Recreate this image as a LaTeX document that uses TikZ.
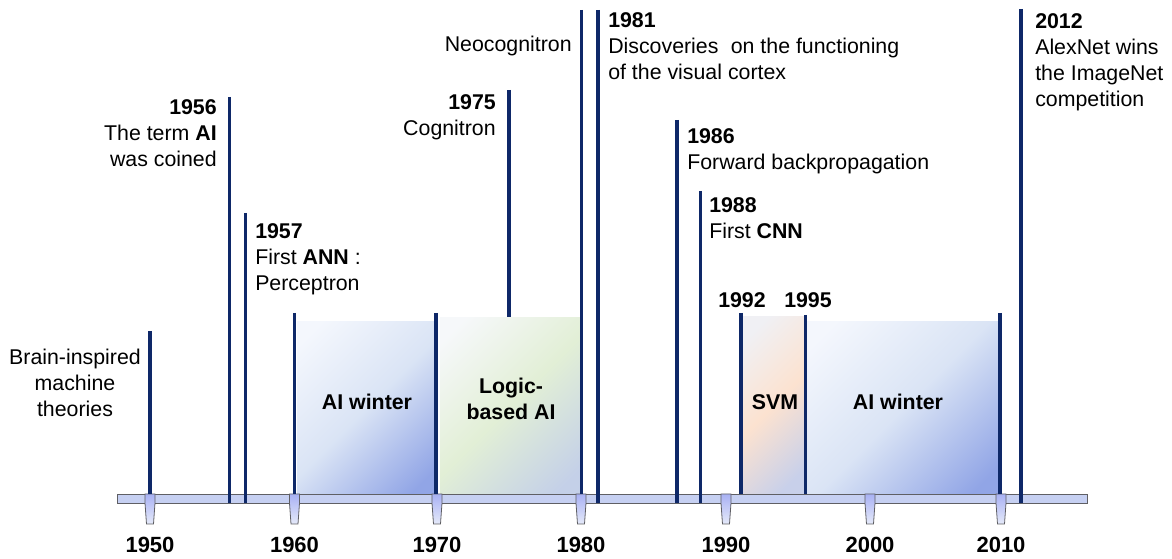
\documentclass[tikz,border=0pt]{standalone}
\usepackage{fontspec}
\setmainfont{Liberation Sans}
\definecolor{navy}{RGB}{14,40,104}
\definecolor{barfill}{RGB}{198,208,242}
\definecolor{barline}{RGB}{95,95,100}
\definecolor{winterA}{RGB}{244,247,253}
\definecolor{winterB}{RGB}{218,228,245}
\definecolor{winterC}{RGB}{145,165,230}
\definecolor{logicA}{RGB}{246,248,250}
\definecolor{logicB}{RGB}{226,239,214}
\definecolor{logicC}{RGB}{196,208,232}
\definecolor{svmA}{RGB}{240,240,244}
\definecolor{svmB}{RGB}{252,226,208}
\definecolor{svmC}{RGB}{200,208,234}
% diagonal fills: light at the upper left, deeper at the lower right
\pgfdeclarehorizontalshading{wintershade}{100bp}{color(0bp)=(winterA); color(20bp)=(winterA);
  color(50bp)=(winterB); color(80bp)=(winterC); color(100bp)=(winterC)}
\pgfdeclarehorizontalshading{logicshade}{100bp}{color(0bp)=(logicA); color(20bp)=(logicA);
  color(50bp)=(logicB); color(80bp)=(logicC); color(100bp)=(logicC)}
\pgfdeclarehorizontalshading{svmshade}{100bp}{color(0bp)=(svmA); color(22bp)=(svmA);
  color(50bp)=(svmB); color(78bp)=(svmC); color(100bp)=(svmC)}
\newcommand\evfont{\fontsize{16}{19.5}\selectfont}
\tikzset{
  evline/.style={draw=navy, line width=2.4pt},
  evtext/.style={inner sep=0pt, font=\evfont},
  yeartext/.style={inner sep=0pt, font=\evfont\bfseries},
  axislabel/.style={inner sep=0pt, font=\fontsize{16.5}{19.5}\selectfont\bfseries, anchor=base},
  winter/.style={shade, shading=wintershade, shading angle=-45},
  logic/.style={shade, shading=logicshade, shading angle=-45},
  svm/.style={shade, shading=svmshade, shading angle=-45},
  tickmark/.style={draw=barline, line width=0.6pt, top color=barfill!85!blue, bottom color=barfill!45},
}
\begin{document}
\begin{tikzpicture}[x=0.75pt, y=-0.75pt]
\useasboundingbox (0,0) rectangle (1172,559);

% period boxes
\path[winter] (297,322) rectangle (435,494);
\path[logic]  (440,318) rectangle (580,494);
\path[svm]    (742,317) rectangle (805,494);
\path[winter] (806,322) rectangle (1000,494);

% time axis bar
\draw[draw=barline, fill=barfill, line width=0.6pt] (117,494) rectangle (1087,503);

% decade ticks and labels
\foreach \x/\yr in {150/1950, 294.5/1960, 437/1970, 581/1980, 726/1990, 870/2000, 1001/2010}{
  \draw[tickmark] (\x-5,494) -- (\x+5,494) -- (\x+5,503) -- (\x+3.5,524)
        -- (\x-3.5,524) -- (\x-5,503) -- cycle;
  \node[axislabel] (ax\yr) at (\x,553) {\yr};
}

% event line end points
\coordinate (t1950) at (150,331);    \coordinate (b1950) at (150,494);
\coordinate (t1956) at (229.5,97);   \coordinate (b1956) at (229.5,503);
\coordinate (t1957) at (245.5,213);  \coordinate (b1957) at (245.5,503);
\coordinate (t1960) at (294.5,313);  \coordinate (b1960) at (294.5,494);
\coordinate (t1970) at (436,313);    \coordinate (b1970) at (436,494);
\coordinate (t1975) at (509,90);     \coordinate (b1975) at (509,317);
\coordinate (t1980) at (581.5,10);   \coordinate (b1980) at (581.5,494);
\coordinate (t1981) at (598,10);     \coordinate (b1981) at (598,503);
\coordinate (t1986) at (677,120);    \coordinate (b1986) at (677,503);
\coordinate (t1988) at (700.5,191);  \coordinate (b1988) at (700.5,503);
\coordinate (t1992) at (741,313);    \coordinate (b1992) at (741,494);
\coordinate (t1995) at (805.5,315);  \coordinate (b1995) at (805.5,494);
\coordinate (t2010) at (1000,313);   \coordinate (b2010) at (1000,494);
\coordinate (t2012) at (1021,9);     \coordinate (b2012) at (1021,503);

\foreach \e in {1950,1956,1957,1960,1970,1975,1980,1981,1986,1988,1992,1995,2010,2012}
  \draw[evline] (t\e) -- (b\e);

% event texts (anchored at the baseline of their last line)
\node[evtext, align=center, anchor=base] (brain) at (75,417)
  {Brain-inspired\\machine\\theories};
\node[evtext, align=right, anchor=base east] (ai56) at (217,167)
  {\textbf{1956}\\The term \textbf{AI}\\was coined};
\node[evtext, align=left, anchor=base west] (ann57) at (255,290.5)
  {\textbf{1957}\\First \textbf{ANN} :\\Perceptron};
\node[evtext, align=right, anchor=base east] (cog75) at (496,136)
  {\textbf{1975}\\Cognitron};
\node[evtext, anchor=base east] (neo80) at (572,52) {Neocognitron};
\node[evtext, align=left, anchor=base west] (vis81) at (608,79.5)
  {\textbf{1981}\\Discoveries\hspace{0.3em} on the functioning\\of the visual cortex};
\node[evtext, align=left, anchor=base west] (bp86) at (687,170)
  {\textbf{1986}\\Forward backpropagation};
\node[evtext, align=left, anchor=base west] (cnn88) at (709,238.5)
  {\textbf{1988}\\First \textbf{CNN}};
\node[yeartext, anchor=base] (y92) at (742,308) {1992};
\node[yeartext, anchor=base] (y95) at (808,308) {1995};
\node[evtext, align=left, anchor=base west] (alex12) at (1035,106.5)
  {\textbf{2012}\\AlexNet wins\\the ImageNet\\competition};

% period labels
\node[yeartext, anchor=base] (win1) at (367,410) {AI winter};
\node[yeartext, align=center, anchor=base] (logic) at (511,420) {Logic-\\based AI};
\node[yeartext, anchor=base] (svmlbl) at (775,410) {SVM};
\node[yeartext, anchor=base] (win2) at (898,410) {AI winter};
\end{tikzpicture}
\end{document}
